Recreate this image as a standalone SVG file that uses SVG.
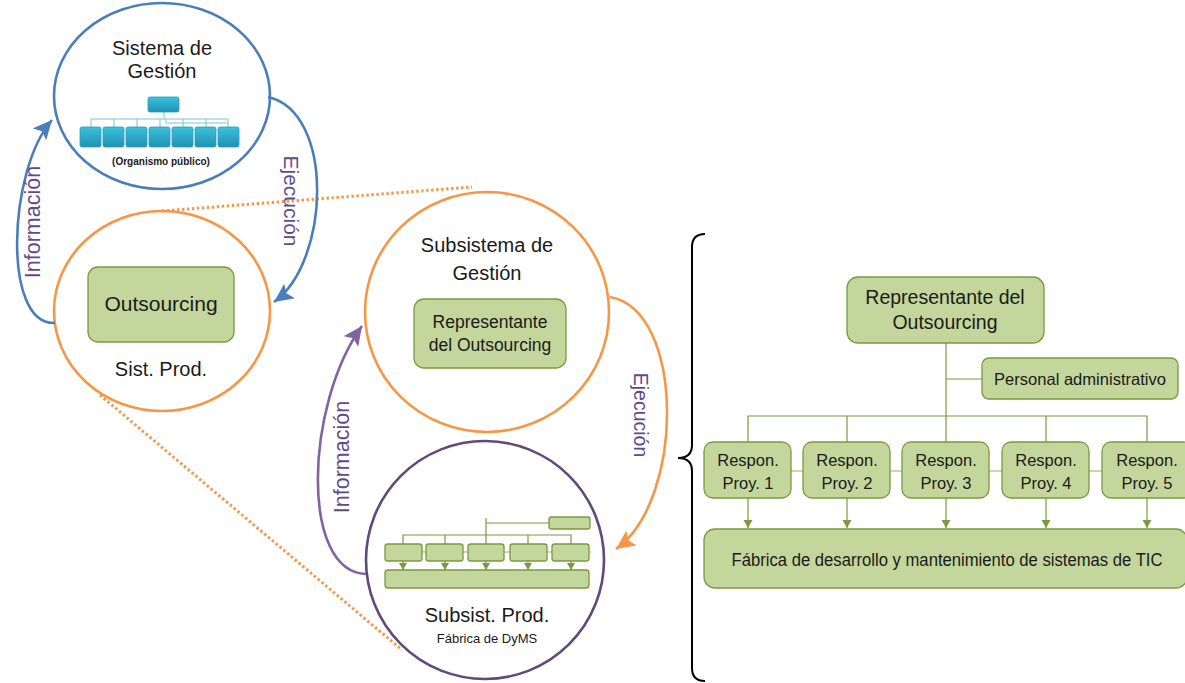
<svg xmlns="http://www.w3.org/2000/svg" width="1185" height="683" viewBox="0 0 1185 683">
  <style>
    .lbl { font-family: "Liberation Sans", Arial, sans-serif; fill: #1a1a1a; text-anchor: middle; }
    .flow { font-family: "Liberation Sans", Arial, sans-serif; fill: #5f4b8b; text-anchor: middle; }
    .box { fill: #c3d69b; stroke: #7a9a3e; stroke-width: 1.3; }
    .link { fill: none; stroke: #7a9a3e; stroke-width: 1.2; }
    .pale { fill: none; stroke: #b5cc8a; stroke-width: 1.5; }
    .teal { fill: url(#tealGrad); stroke: #2a9cbc; stroke-width: 0.8; }
    .tline { fill: none; stroke: #7cc4d8; stroke-width: 1; }
    .dots { fill: none; stroke: #f79646; stroke-width: 3; stroke-dasharray: 2.4 2.6; }
  </style>
  <defs>
    <linearGradient id="tealGrad" x1="0" y1="0" x2="0" y2="1">
      <stop offset="0" stop-color="#3cc0dc"/>
      <stop offset="1" stop-color="#1f92b2"/>
    </linearGradient>
    <marker id="arrBlue" markerUnits="userSpaceOnUse" markerWidth="22" markerHeight="20" refX="19" refY="9" orient="auto">
      <path d="M0,0 L19,9 L0,18 L4,9 z" fill="#4a7ebb"/>
    </marker>
    <marker id="arrOrange" markerUnits="userSpaceOnUse" markerWidth="22" markerHeight="20" refX="19" refY="9" orient="auto">
      <path d="M0,0 L19,9 L0,18 L4,9 z" fill="#f79646"/>
    </marker>
    <marker id="arrPurple" markerUnits="userSpaceOnUse" markerWidth="22" markerHeight="20" refX="19" refY="9" orient="auto">
      <path d="M0,0 L19,9 L0,18 L4,9 z" fill="#8064a2"/>
    </marker>
    <marker id="arrGreen" markerUnits="userSpaceOnUse" markerWidth="10" markerHeight="10" refX="8" refY="4.5" orient="auto">
      <path d="M0,0 L8,4.5 L0,9 z" fill="#7a9a3e"/>
    </marker>
    <marker id="arrGreenS" markerUnits="userSpaceOnUse" markerWidth="8" markerHeight="8" refX="7" refY="4" orient="auto">
      <path d="M0,0 L7,4 L0,8 z" fill="#7a9a3e"/>
    </marker>
  </defs>

  <rect x="0" y="0" width="1185" height="683" fill="#ffffff"/>

  <!-- dotted projection lines -->
  <g id="projections">
    <path class="dots" d="M162 211 L472 187"/>
    <path class="dots" d="M100 395 L402 650"/>
  </g>

  <!-- Sistema de Gestión -->
  <g id="sistema-gestion">
    <ellipse cx="162" cy="96" rx="108" ry="93" fill="#ffffff" stroke="#4a7ebb" stroke-width="2.6"/>
    <text class="lbl" x="162" y="55" font-size="20">Sistema de</text>
    <text class="lbl" x="162" y="78" font-size="20">Gestión</text>
    <g id="organigrama-publico">
      <path class="tline" d="M164 112 V119 M91 127 V119 H228 V127 M114 119 V127 M137 119 V127 M160 119 V127 M183 119 V127 M206 119 V127"/>
      <path class="tline" d="M166 119 V123 H228"/>
      <rect class="teal" x="148" y="97" width="31" height="15" rx="2"/>
      <rect class="teal" x="80" y="127" width="21" height="20" rx="2"/>
      <rect class="teal" x="103" y="127" width="21" height="20" rx="2"/>
      <rect class="teal" x="126" y="127" width="21" height="20" rx="2"/>
      <rect class="teal" x="149" y="127" width="21" height="20" rx="2"/>
      <rect class="teal" x="172" y="127" width="21" height="20" rx="2"/>
      <rect class="teal" x="195" y="127" width="21" height="20" rx="2"/>
      <rect class="teal" x="218" y="127" width="21" height="20" rx="2"/>
    </g>
    <text class="lbl" x="161" y="165" font-size="10" font-weight="bold">(Organismo público)</text>
  </g>

  <!-- Sist. Prod. (Outsourcing) -->
  <g id="sistema-produccion">
    <ellipse cx="162" cy="311" rx="108" ry="100" fill="none" stroke="#f79646" stroke-width="2.6"/>
    <rect class="box" x="88" y="267" width="146" height="75" rx="10"/>
    <text class="lbl" x="161" y="311" font-size="21">Outsourcing</text>
    <text class="lbl" x="161" y="376" font-size="20">Sist. Prod.</text>
  </g>

  <!-- Subsistema de Gestión -->
  <g id="subsistema-gestion">
    <ellipse cx="487" cy="312" rx="122" ry="120" fill="none" stroke="#f79646" stroke-width="2.6"/>
    <text class="lbl" x="487" y="252" font-size="20">Subsistema de</text>
    <text class="lbl" x="487" y="280" font-size="20">Gestión</text>
    <rect class="box" x="414" y="299" width="152" height="69" rx="10"/>
    <text class="lbl" x="490" y="328" font-size="17.5">Representante</text>
    <text class="lbl" x="490" y="351" font-size="17.5">del Outsourcing</text>
  </g>

  <!-- Subsist. Prod. (Fábrica de DyMS) -->
  <g id="subsistema-produccion">
    <ellipse cx="485" cy="560" rx="119" ry="119" fill="none" stroke="#604a7b" stroke-width="2.6"/>
    <g id="organigrama-fabrica">
      <path class="pale" d="M385 552 H591"/>
      <path class="link" d="M486 518 V544 M486 523 H549 M403 544 V535 H571 V544 M445 535 V544 M528 535 V544"/>
      <rect class="box" x="549" y="517" width="41" height="12" rx="2.5"/>
      <rect class="box" x="385" y="544" width="37" height="17" rx="2.5"/>
      <rect class="box" x="426" y="544" width="37" height="17" rx="2.5"/>
      <rect class="box" x="468" y="544" width="36" height="17" rx="2.5"/>
      <rect class="box" x="510" y="544" width="37" height="17" rx="2.5"/>
      <rect class="box" x="552" y="544" width="37" height="17" rx="2.5"/>
      <path class="link" d="M403 561 V570" marker-end="url(#arrGreenS)"/>
      <path class="link" d="M445 561 V570" marker-end="url(#arrGreenS)"/>
      <path class="link" d="M486 561 V570" marker-end="url(#arrGreenS)"/>
      <path class="link" d="M528 561 V570" marker-end="url(#arrGreenS)"/>
      <path class="link" d="M571 561 V570" marker-end="url(#arrGreenS)"/>
      <rect class="box" x="385" y="570" width="204" height="18" rx="3"/>
    </g>
    <text class="lbl" x="487" y="622" font-size="20">Subsist. Prod.</text>
    <text class="lbl" x="487" y="643" font-size="13">Fábrica de DyMS</text>
  </g>

  <!-- feedback / execution connectors -->
  <g id="connectors">
    <path d="M268 97 C 335 112, 330 262, 274 302" fill="none" stroke="#4a7ebb" stroke-width="2.6" marker-end="url(#arrBlue)"/>
    <path d="M55 323 C 2 326, 8 170, 52 120" fill="none" stroke="#4a7ebb" stroke-width="2.6" marker-end="url(#arrBlue)"/>
    <path d="M610 297 C 685 310, 685 500, 616 549" fill="none" stroke="#f79646" stroke-width="2.6" marker-end="url(#arrOrange)"/>
    <path d="M366 574 C 300 572, 305 405, 362 326" fill="none" stroke="#8064a2" stroke-width="2.6" marker-end="url(#arrPurple)"/>
  </g>

  <!-- connector labels -->
  <g id="connector-labels">
    <text class="flow" font-size="21.5" transform="translate(33,222) rotate(-90)" y="7">Información</text>
    <text class="flow" font-size="21" transform="translate(291,201) rotate(90)" y="7">Ejecución</text>
    <text class="flow" font-size="19.5" transform="translate(641,415) rotate(90)" y="7">Ejecución</text>
    <text class="flow" font-size="21.5" transform="translate(342,457) rotate(-90)" y="7">Información</text>
  </g>

  <!-- brace -->
  <g id="brace">
    <path d="M705 234 Q692 234 692 247 L692 445 Q692 458 678 458 Q692 458 692 471 L692 668 Q692 681 705 681" fill="none" stroke="#000000" stroke-width="2"/>
  </g>

  <!-- Outsourcing organisation chart -->
  <g id="org-connectors">
    <path class="pale" d="M704 471 H1185"/>
    <path class="link" d="M946 343 V442 M946 379 H982 M748 442 V416 H1147 V442 M847 416 V442 M1046 416 V442"/>
    <path class="link" d="M748 498 V528" marker-end="url(#arrGreen)"/>
    <path class="link" d="M847 498 V528" marker-end="url(#arrGreen)"/>
    <path class="link" d="M946 498 V528" marker-end="url(#arrGreen)"/>
    <path class="link" d="M1046 498 V528" marker-end="url(#arrGreen)"/>
    <path class="link" d="M1147 498 V528" marker-end="url(#arrGreen)"/>
  </g>

  <g id="representante">
    <rect class="box" x="847" y="277" width="197" height="66" rx="11"/>
    <text class="lbl" x="945" y="304" font-size="19.5">Representante del</text>
    <text class="lbl" x="945" y="329" font-size="19.5">Outsourcing</text>
  </g>

  <g id="personal-administrativo">
    <rect class="box" x="982" y="358" width="196" height="41" rx="7"/>
    <text class="lbl" x="1080" y="385" font-size="16.5" textLength="172" lengthAdjust="spacingAndGlyphs">Personal administrativo</text>
  </g>

  <g id="respon-1">
    <rect class="box" x="704" y="442" width="87" height="56" rx="9"/>
    <text class="lbl" x="748" y="466" font-size="16.5">Respon.</text>
    <text class="lbl" x="748" y="489" font-size="16.5">Proy. 1</text>
  </g>
  <g id="respon-2">
    <rect class="box" x="803" y="442" width="87" height="56" rx="9"/>
    <text class="lbl" x="847" y="466" font-size="16.5">Respon.</text>
    <text class="lbl" x="847" y="489" font-size="16.5">Proy. 2</text>
  </g>
  <g id="respon-3">
    <rect class="box" x="902" y="442" width="87" height="56" rx="9"/>
    <text class="lbl" x="946" y="466" font-size="16.5">Respon.</text>
    <text class="lbl" x="946" y="489" font-size="16.5">Proy. 3</text>
  </g>
  <g id="respon-4">
    <rect class="box" x="1002" y="442" width="87" height="56" rx="9"/>
    <text class="lbl" x="1046" y="466" font-size="16.5">Respon.</text>
    <text class="lbl" x="1046" y="489" font-size="16.5">Proy. 4</text>
  </g>
  <g id="respon-5">
    <rect class="box" x="1102" y="442" width="90" height="56" rx="9"/>
    <text class="lbl" x="1147" y="466" font-size="16.5">Respon.</text>
    <text class="lbl" x="1147" y="489" font-size="16.5">Proy. 5</text>
  </g>

  <g id="fabrica">
    <rect class="box" x="704" y="529" width="483" height="59" rx="11"/>
    <text class="lbl" x="947" y="566" font-size="17.5" textLength="431" lengthAdjust="spacingAndGlyphs">Fábrica de desarrollo y mantenimiento de sistemas de TIC</text>
  </g>
</svg>
